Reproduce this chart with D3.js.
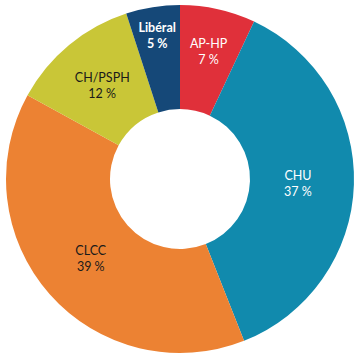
<!DOCTYPE html>
<html>
<head>
<meta charset="utf-8">
<script src="https://cdn.jsdelivr.net/npm/d3@7"></script>
<style>
  html, body { margin: 0; padding: 0; background: #fff; }
  svg { display: block; }
</style>
</head>
<body>
<svg id="chart" width="359" height="359"></svg>
<script>
// Data
const categories = ["AP-HP", "CHU", "CLCC", "CH/PSPH", "Libéral"];
const values = [7, 37, 39, 12, 5];
const valueLabels = ["7 %", "37 %", "39 %", "12 %", "5 %"];
const colors = ["#E0303A", "#118AAD", "#EC8233", "#C9C637", "#154878"];
const textColors = ["#ffffff", "#ffffff", "#1a1a1a", "#1a1a1a", "#ffffff"];

// Layout
const cx = 180, cy = 179, outerR = 174, innerR = 70;
const labelRadii = [131, 118, 119, 122, 146];

const svg = d3.select("#chart");
const g = svg.append("g").attr("transform", `translate(${cx},${cy})`);

const pie = d3.pie().sort(null).value(d => d.value);
const data = categories.map((c, i) => ({ name: c, value: values[i], label: valueLabels[i], i }));
const arcs = pie(data);

const arc = d3.arc().innerRadius(innerR).outerRadius(outerR);

g.selectAll("path.slice")
  .data(arcs)
  .join("path")
  .attr("class", "slice")
  .attr("d", arc)
  .attr("fill", d => colors[d.data.i]);

const labels = g.selectAll("text.lbl")
  .data(arcs)
  .join("text")
  .attr("class", "lbl")
  .attr("transform", d => {
    const r = labelRadii[d.data.i];
    const c = d3.arc().innerRadius(r).outerRadius(r).centroid(d);
    return `translate(${c[0]},${c[1]})`;
  })
  .attr("text-anchor", "middle")
  .attr("font-family", "Lato, 'Open Sans', sans-serif")
  .attr("font-size", 12.5)
  .attr("font-weight", d => d.data.name === "Libéral" ? 700 : 400)
  .attr("fill", d => textColors[d.data.i]);

labels.append("tspan")
  .attr("x", 0)
  .attr("y", -3)
  .text(d => d.data.name);
labels.append("tspan")
  .attr("x", 0)
  .attr("y", 13)
  .text(d => d.data.label);
</script>
</body>
</html>
